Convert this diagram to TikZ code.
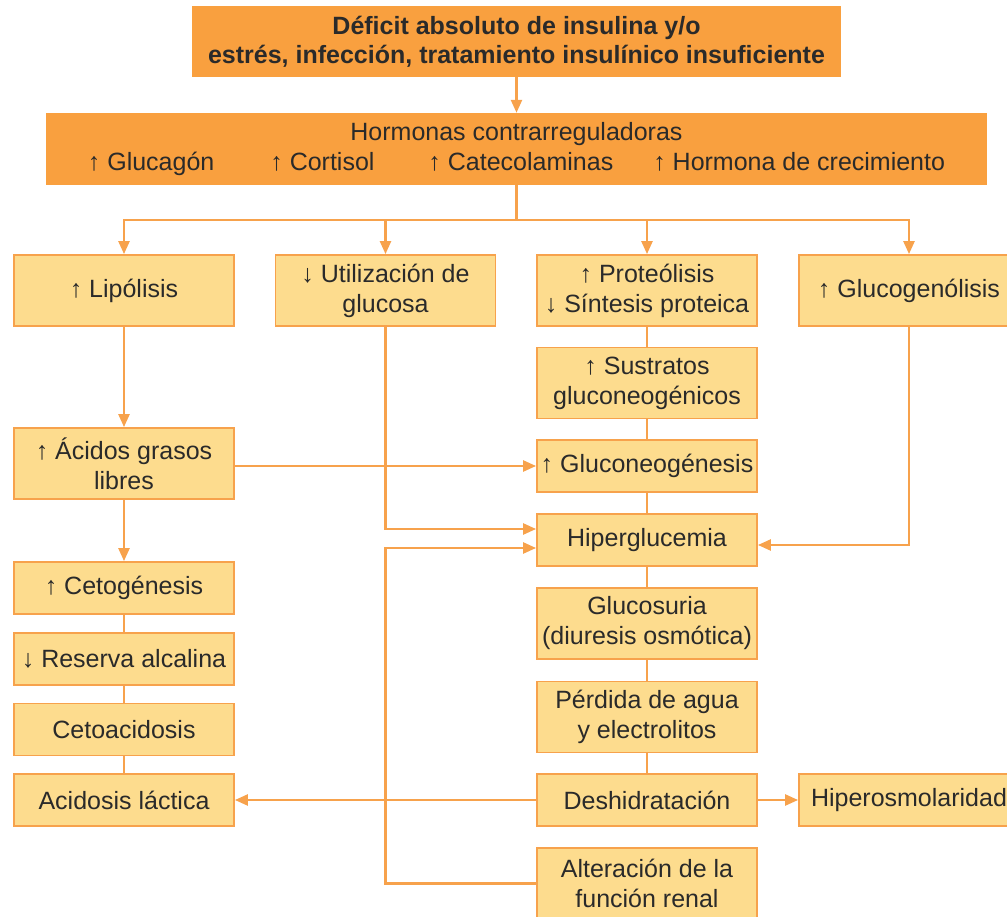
\documentclass[tikz,border=0pt]{standalone}
\usepackage{fontspec}
\setmainfont{Liberation Sans}
\usepackage{xcolor}
\definecolor{naranja}{HTML}{F9A03F}
\definecolor{crema}{HTML}{FDDC8E}
\definecolor{trazo}{HTML}{F7A24C}
\definecolor{tinta}{HTML}{2A2A2A}
\usetikzlibrary{arrows.meta}

\begin{document}
\begin{tikzpicture}[x=1pt, y=-1pt,
caja/.style={draw=trazo, line width=1.8pt, fill=crema, text=tinta, align=center, inner sep=0pt, minimum width=220pt, font=\fontsize{25}{30}\selectfont},
alta/.style={caja, minimum height=71pt},
baja/.style={caja, minimum height=52pt},
cabeza/.style={fill=naranja, text=tinta, align=center, inner sep=0pt},
linea/.style={draw=trazo, line width=2.4pt},
flecha/.style={linea, -{Triangle[length=13pt, width=11pt]}}]
\useasboundingbox (0,0) rectangle (1007,917);
\clip (0,0) rectangle (1007,917);
\node[cabeza, minimum width=649pt, minimum height=71pt, font=\bfseries\fontsize{25}{29}\selectfont] (deficit) at (516.5,41.5)
{Déficit absoluto de insulina y/o\\ estrés, infección, tratamiento insulínico insuficiente};
\node[cabeza, minimum width=941pt, minimum height=72pt, font=\fontsize{25}{30}\selectfont] (hormonas) at (516.5,149)
{Hormonas contrarreguladoras\\ ↑ Glucagón\hspace{56pt}↑ Cortisol\hspace{54pt}↑ Catecolaminas\hspace{40pt}↑ Hormona de crecimiento};
\node[alta] (lipolisis) at (124,290.5) {↑ Lipólisis};
\node[alta] (utilizacion) at (385.5,290.5) {↓ Utilización de\\ glucosa};
\node[alta] (proteolisis) at (647,290.5) {↑ Proteólisis\\ ↓ Síntesis proteica};
\node[alta] (glucogenolisis) at (909,290.5) {↑ Glucogenólisis};
\node[alta] (sustratos) at (647,383) {↑ Sustratos\\ gluconeogénicos};
\node[alta] (acidos) at (124,463.5) {↑ Ácidos grasos\\ libres};
\node[baja] (gluconeo) at (647,466) {↑ Gluconeogénesis};
\node[baja] (hiper) at (647,540) {Hiperglucemia};
\node[baja] (cetogenesis) at (124,588) {↑ Cetogénesis};
\node[alta] (glucosuria) at (647,623.5) {Glucosuria\\ (diuresis osmótica)};
\node[baja] (reserva) at (124,659) {↓ Reserva alcalina};
\node[alta] (perdida) at (647,717) {Pérdida de agua\\ y electrolitos};
\node[baja] (cetoacidosis) at (124,729.5) {Cetoacidosis};
\node[baja] (lactica) at (124,800) {Acidosis láctica};
\node[baja] (deshidra) at (647,800) {Deshidratación};
\node[baja] (hiperosmo) at (909,800) {Hiperosmolaridad};
\node[alta] (renal) at (647,883.5) {Alteración de la\\ función renal};
% reparto de las hormonas
\coordinate (reparto) at (516.5,220);
\draw[flecha] (deficit) -- (hormonas);
\draw[linea] (hormonas.south) -- (reparto);
\foreach \n in {lipolisis, utilizacion, proteolisis, glucogenolisis}{
\draw[flecha] (reparto) -| (\n.north);
}
\foreach \a/\b in {proteolisis/sustratos, sustratos/gluconeo, gluconeo/hiper, hiper/glucosuria, glucosuria/perdida, perdida/deshidra, cetogenesis/reserva, reserva/cetoacidosis, cetoacidosis/lactica}{
\draw[linea] (\a) -- (\b);
}
\draw[flecha] (lipolisis) -- (acidos);
\draw[flecha] (acidos) -- (cetogenesis);
\draw[flecha] (acidos.east |- gluconeo) -- (gluconeo.west);
\draw[flecha] (utilizacion.south) |- ([yshift=11pt]hiper.west);
\draw[flecha] (glucogenolisis.south) |- ([yshift=-5pt]hiper.east);
\coordinate (codo) at (utilizacion.south |- renal.west);
\draw[flecha] (renal.west) -- (codo) |- ([yshift=-8pt]hiper.west);
\draw[flecha] (deshidra) -- (lactica);
\draw[flecha] (deshidra) -- (hiperosmo);
\end{tikzpicture}
\end{document}
